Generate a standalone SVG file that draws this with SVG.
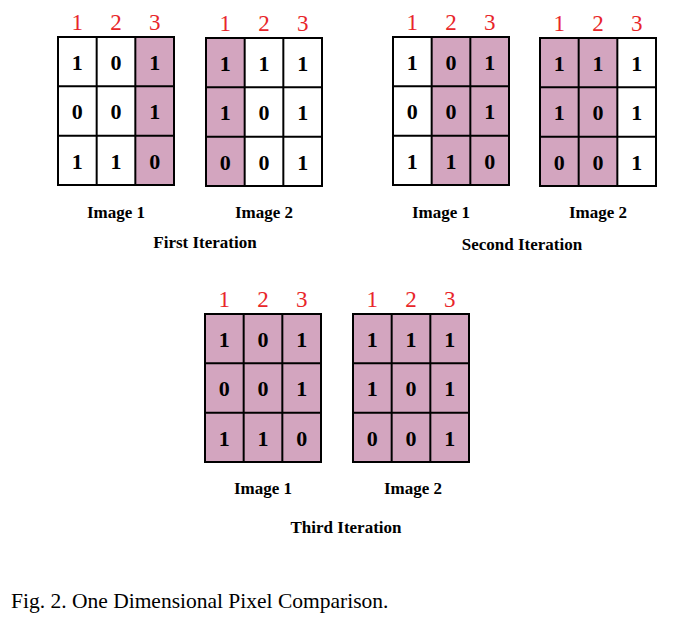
<svg xmlns="http://www.w3.org/2000/svg" width="677" height="623" viewBox="0 0 677 623">
<style>
.bg{fill:#ffffff}
.p{fill:#d3a5bf}
.ln{fill:none;stroke:#000;stroke-width:2}
text{font-family:'Liberation Serif','Times New Roman','DejaVu Serif',Times,serif}
.hd{font-size:23px;fill:#e8262a;text-anchor:middle}
.v{font-size:22px;font-weight:bold;fill:#000;text-anchor:middle}
.lb{font-size:17px;font-weight:bold;fill:#000;text-anchor:middle}
.cap{font-size:21.5px;fill:#000}
</style>
<defs>
<g id="lines">
<rect class="ln" x="0" y="0" width="116" height="148"/>
<line class="ln" x1="38.67" y1="0" x2="38.67" y2="148"/>
<line class="ln" x1="77.33" y1="0" x2="77.33" y2="148"/>
<line class="ln" x1="0" y1="49.33" x2="116" y2="49.33"/>
<line class="ln" x1="0" y1="98.67" x2="116" y2="98.67"/>
</g>
<g id="hdr">
<text class="hd" x="19.33" y="-7">1</text>
<text class="hd" x="58" y="-7">2</text>
<text class="hd" x="96.67" y="-7">3</text>
</g>
<g id="valsA">
<text class="v" x="19.33" y="32.5">1</text><text class="v" x="58" y="32.5">0</text><text class="v" x="96.67" y="32.5">1</text>
<text class="v" x="19.33" y="82">0</text><text class="v" x="58" y="82">0</text><text class="v" x="96.67" y="82">1</text>
<text class="v" x="19.33" y="131.5">1</text><text class="v" x="58" y="131.5">1</text><text class="v" x="96.67" y="131.5">0</text>
</g>
<g id="valsB">
<text class="v" x="19.33" y="32.5">1</text><text class="v" x="58" y="32.5">1</text><text class="v" x="96.67" y="32.5">1</text>
<text class="v" x="19.33" y="82">1</text><text class="v" x="58" y="82">0</text><text class="v" x="96.67" y="82">1</text>
<text class="v" x="19.33" y="131.5">0</text><text class="v" x="58" y="131.5">0</text><text class="v" x="96.67" y="131.5">1</text>
</g>
</defs>
<rect class="bg" x="0" y="0" width="677" height="623"/>

<g id="it1-image1" transform="translate(58,37)">
<rect class="p" x="77.33" y="0" width="38.67" height="148"/>
<use href="#valsA"/><use href="#lines"/><use href="#hdr"/>
<text class="lb" x="58" y="181">Image 1</text>
</g>
<g id="it1-image2" transform="translate(206,38)">
<rect class="p" x="0" y="0" width="38.67" height="148"/>
<use href="#valsB"/><use href="#lines"/><use href="#hdr"/>
<text class="lb" x="58" y="180">Image 2</text>
</g>
<text id="it1-label" class="lb" x="205" y="248">First Iteration</text>

<g id="it2-image1" transform="translate(393,37)">
<rect class="p" x="38.67" y="0" width="77.33" height="148"/>
<use href="#valsA"/><use href="#lines"/><use href="#hdr"/>
<text class="lb" x="48" y="181">Image 1</text>
</g>
<g id="it2-image2" transform="translate(540,38)">
<rect class="p" x="0" y="0" width="77.33" height="148"/>
<use href="#valsB"/><use href="#lines"/><use href="#hdr"/>
<text class="lb" x="58" y="180">Image 2</text>
</g>
<text id="it2-label" class="lb" x="522" y="250">Second Iteration</text>

<g id="it3-image1" transform="translate(205,314)">
<rect class="p" x="0" y="0" width="116" height="148"/>
<use href="#valsA"/><use href="#lines"/><use href="#hdr"/>
<text class="lb" x="58" y="180">Image 1</text>
</g>
<g id="it3-image2" transform="translate(353,314)">
<rect class="p" x="0" y="0" width="116" height="148"/>
<use href="#valsB"/><use href="#lines"/><use href="#hdr"/>
<text class="lb" x="60" y="180">Image 2</text>
</g>
<text id="it3-label" class="lb" x="346" y="533">Third Iteration</text>

<text id="caption" class="cap" x="11" y="608">Fig. 2. One Dimensional Pixel Comparison.</text>
</svg>
